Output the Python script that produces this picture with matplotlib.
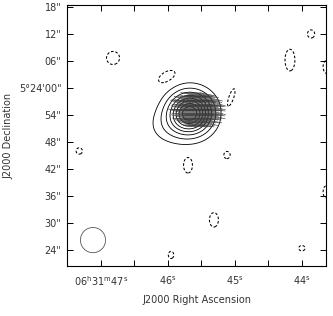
import numpy as np
import matplotlib.pyplot as plt
from matplotlib.patches import Ellipse
from matplotlib.collections import LineCollection

# RA in seconds of 06h31m, Dec as arcsec offset from +5d24'00"
cosd = 14.93  # arcsec per RA second at this declination

# positive emission components
src_ra = [45.667, 46.0]
src_dec = [-5.6, -8.5]
src_amp = [1.0, 0.1]
src_sx = [3.1, 3.2]
src_sy = [3.0, 2.8]

# negative (dashed) blobs: ra_s, dec_off, semi_x, semi_y, angle (deg)
neg_ra = [46.816, 46.010, 44.175, 43.86, 43.62, 45.06, 47.32, 45.697, 45.115, 43.64, 45.31, 45.95, 43.997]
neg_dec = [6.67, 2.44, 6.2, 12.0, 4.7, -2.4, -14.0, -17.1, -14.9, -23.1, -29.3, -37.1, -35.6]
neg_a = [1.45, 2.2, 1.1, 0.8, 0.9, 0.6, 0.7, 1.0, 0.7, 0.6, 1.0, 0.6, 0.7]
neg_b = [1.45, 1.2, 2.4, 0.9, 1.5, 2.4, 0.7, 1.8, 0.8, 1.3, 1.6, 0.8, 0.6]
neg_ang = [0, 30, 0, 0, 0, -20, 0, 0, 0, 0, 0, 0, 0]

pos_levels = [0.08, 0.18, 0.3, 0.42, 0.54, 0.66, 0.78, 0.9]
neg_level = -0.05

# polarisation segments, one angle and length per row (top to bottom)
vec_ra0, vec_dec0 = 45.55, -4.9
vec_rx, vec_ry = 4.8, 4.0
vec_dx, vec_dy = 0.7, 0.5
vec_row_angle = [-8, -12, -6, -15, -10, -18, -9, -13, -7, -16, -11, -14, -8, -12, -17, -10, -13]
vec_row_len = [3.2, 3.8, 3.5, 4.0, 3.6, 4.2, 3.4, 3.9, 3.7, 4.1, 3.5, 3.8, 3.3, 3.6, 3.2, 3.0, 2.8]

xt = [47, 46, 45, 44]
xt_lab = [r'06$^{\rm h}$31$^{\rm m}$47$^{\rm s}$', r'46$^{\rm s}$', r'45$^{\rm s}$', r'44$^{\rm s}$']
yt = [18, 12, 6, 0, -6, -12, -18, -24, -30, -36]
yt_lab = ['18"', '12"', '06"', '5°24\'00"', '54"', '48"', '42"', '36"', '30"', '24"']


def blob(RA, DE, ra0, de0, amp, sx, sy, ang=0.0):
    u0 = -(RA - ra0) * cosd
    v0 = DE - de0
    t = np.radians(ang)
    u = u0 * np.cos(t) + v0 * np.sin(t)
    v = -u0 * np.sin(t) + v0 * np.cos(t)
    return amp * np.exp(-0.5 * ((u / sx) ** 2 + (v / sy) ** 2))


ra = np.linspace(43.4, 47.7, 500)
de = np.linspace(-41, 20, 500)
RA, DE = np.meshgrid(ra, de)
field = np.zeros_like(RA)
for i in range(len(src_ra)):
    field += blob(RA, DE, src_ra[i], src_dec[i], src_amp[i], src_sx[i], src_sy[i])
k = np.sqrt(2 * np.log(2))
for i in range(len(neg_ra)):
    field += blob(RA, DE, neg_ra[i], neg_dec[i], -0.1, neg_a[i] / k, neg_b[i] / k, neg_ang[i])

fig = plt.figure(figsize=(3.33, 3.16), dpi=100)
ax = fig.add_axes([67 / 333, 50 / 316, 259 / 333, 261 / 316])

ax.contour(RA, DE, field, levels=pos_levels, colors='black', linewidths=0.6, linestyles='solid')
ax.contour(RA, DE, field, levels=[neg_level], colors='black', linewidths=0.75, linestyles=[(0, (2.5, 1.8))])

segs = []
rows = np.arange(vec_dec0 + vec_ry, vec_dec0 - vec_ry - 0.01, -vec_dy)
for j, yy in enumerate(rows):
    t = np.radians(vec_row_angle[j % len(vec_row_angle)])
    ln = vec_row_len[j % len(vec_row_len)]
    dy = yy - vec_dec0
    for xx in np.arange(-vec_rx, vec_rx + 0.01, vec_dx):
        if (xx / vec_rx) ** 2 + (dy / vec_ry) ** 2 > 1:
            continue
        cx = vec_ra0 - xx / cosd
        hx = 0.5 * ln * np.cos(t) / cosd
        hy = 0.5 * ln * np.sin(t)
        segs.append([(cx + hx, yy - hy), (cx - hx, yy + hy)])
ax.add_collection(LineCollection(segs, colors='#3a3a3a', linewidths=0.45))

ax.add_patch(Ellipse((47.115, -33.8), 2 * 2.8 / cosd, 2 * 2.8, fill=False, ec='#555555', lw=0.6))

ax.set_xlim(47.503, 43.637)
ax.set_ylim(-39.56, 18.44)
ax.set_xticks(xt)
ax.set_xticklabels(xt_lab)
ax.set_xticks([46.5, 45.5, 44.5], minor=True)
ax.set_yticks(yt)
ax.set_yticklabels(yt_lab)
ax.tick_params(which='both', direction='in', top=True, right=True, length=4.5, width=0.7,
               labelsize=7, labelcolor='#333333', pad=4)
ax.tick_params(axis='x', pad=6)
for s in ax.spines.values():
    s.set_linewidth(0.8)
ax.set_xlabel('J2000 Right Ascension', fontsize=7, color='#333333', labelpad=5)
ax.set_ylabel('J2000 Declination', fontsize=7, color='#333333', labelpad=4)

fig.savefig('out.png', dpi=100)
